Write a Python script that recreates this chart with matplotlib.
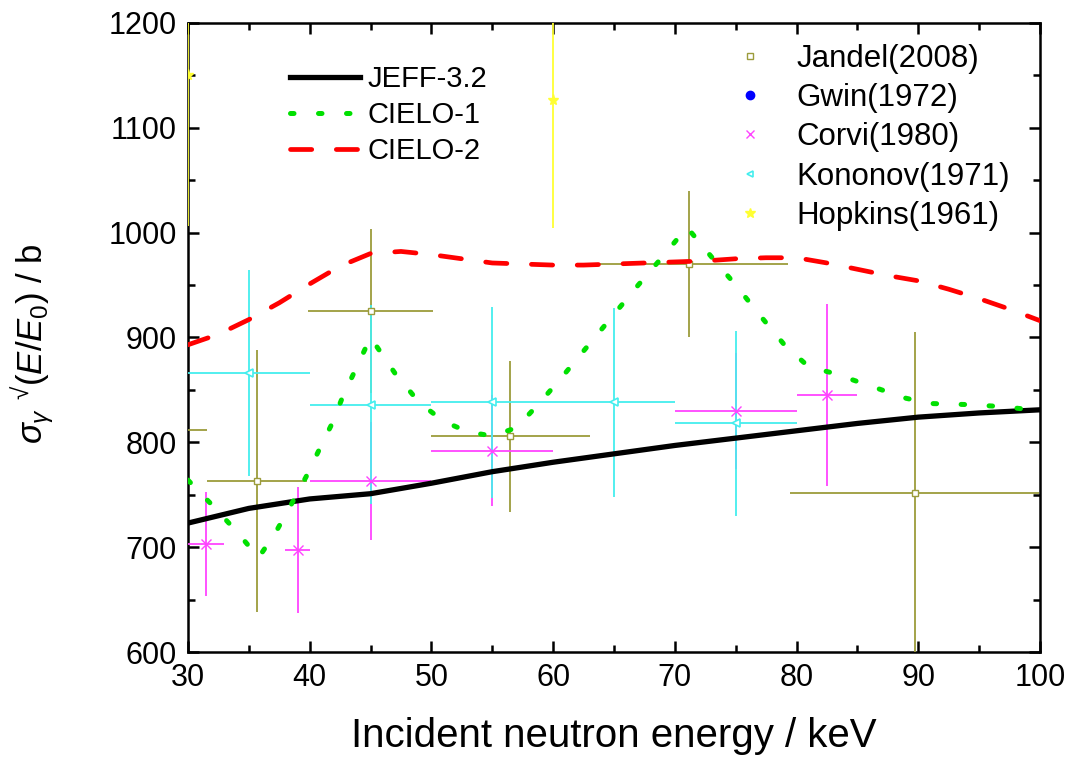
import matplotlib
matplotlib.use('Agg')
import matplotlib.pyplot as plt
from matplotlib.lines import Line2D
from matplotlib.ticker import MultipleLocator

# evaluated curves
jeff_x = [30, 35, 40, 45, 50, 55, 60, 65, 70, 75, 80, 85, 90, 95, 100]
jeff_y = [723, 737, 746, 751, 761, 772, 781, 789, 797, 804, 811, 818, 824, 828, 831]

cielo1_x = [30, 32, 34, 35.8, 37.2, 38.5, 39.7, 40.7, 41.8, 42.7, 45, 47, 49, 51, 53, 55, 57, 59, 61,
            63, 65, 67, 69, 71, 73, 75, 77, 79, 81, 83, 85, 87, 89, 91, 94, 97, 100]
cielo1_y = [764, 740, 715, 690, 714, 741, 767, 791, 817, 843, 900, 866, 838, 820, 810, 806, 814, 839, 866,
            894, 922, 950, 977, 1005, 977, 950, 921, 893, 872, 866, 858, 850, 842, 837, 836, 834, 830]

cielo2_x = [30, 32.5, 35, 37.5, 40, 42.5, 45, 47.5, 50, 52.5, 55, 57.5, 60, 62.5, 65, 67.5, 70,
            72.5, 75, 77.5, 80, 82.5, 85, 87.5, 90, 92.5, 95, 97.5, 100]
cielo2_y = [893, 903, 917, 933, 951, 968, 980, 982, 979, 975, 971, 970, 969, 969, 970, 971, 972,
            973, 975, 976, 976, 971, 965, 959, 954, 946, 937, 927, 916]

# measurements
jandel_x = [28.5, 35.7, 45.0, 56.5, 71.2, 89.7]
jandel_y = [812, 763, 925, 806, 970, 752]
jandel_xerr = [3.1, 4.1, 5.1, 6.5, 8.1, 10.2]
jandel_yerr = [60, 125, 78, 72, 70, 153]

gwin_x = []
gwin_y = []

corvi_x = [31.5, 39.0, 45.0, 55.0, 75.0, 82.5]
corvi_y = [703, 697, 763, 792, 830, 845]
corvi_xerr = [1.5, 1.0, 5.0, 5.0, 5.0, 2.5]
corvi_yerr = [50, 60, 56, 53, 55, 87]

kononov_x = [35, 45, 55, 65, 75]
kononov_y = [866, 836, 838, 838, 818]
kononov_xerr = [5, 5, 5, 5, 5]
kononov_yerr = [98, 95, 91, 90, 88]

hopkins_x = [30, 60]
hopkins_y = [1150, 1126]
hopkins_yerr = [144, 122]

plt.rcParams['font.family'] = ['Liberation Sans', 'DejaVu Sans']
plt.rcParams['mathtext.fontset'] = 'custom'
plt.rcParams['mathtext.rm'] = 'Liberation Sans'
plt.rcParams['mathtext.it'] = 'Liberation Sans:italic'

c_jandel = '#9c9c3c'
c_gwin = '#0000ff'
c_corvi = '#ff44ff'
c_kononov = '#44eeee'
c_hopkins = '#ffff33'

fig = plt.figure(figsize=(10.71, 7.6), dpi=100)
ax = fig.add_axes([0.1755, 0.142, 0.7955, 0.828])

l1, = ax.plot(jeff_x, jeff_y, color='black', lw=3.8, zorder=4)
l2, = ax.plot(cielo1_x, cielo1_y, color='#00e000', lw=3.6, zorder=4,
              dashes=(0.7, 4.9), dash_capstyle='round')
l3, = ax.plot(cielo2_x, cielo2_y, color='#ff0000', lw=3.4, zorder=4,
              dashes=(4.5, 5.2), dash_capstyle='round')

eb = dict(ls='none', elinewidth=1.3, capsize=0, zorder=3)
ax.errorbar(jandel_x, jandel_y, xerr=jandel_xerr, yerr=jandel_yerr, color=c_jandel,
            marker='s', ms=5, mfc='white', mec=c_jandel, mew=1, **eb)
ax.errorbar(corvi_x, corvi_y, xerr=corvi_xerr, yerr=corvi_yerr, color=c_corvi,
            marker='x', ms=7, mew=1, **eb)
ax.errorbar(kononov_x, kononov_y, xerr=kononov_xerr, yerr=kononov_yerr, color=c_kononov,
            marker='<', ms=6, mfc='white', mec=c_kononov, mew=1.2, **eb)
ax.errorbar(hopkins_x, hopkins_y, yerr=hopkins_yerr, color=c_hopkins,
            marker='*', ms=8, **eb)
if gwin_x:
    ax.errorbar(gwin_x, gwin_y, color=c_gwin, marker='o', ms=6, **eb)

ax.set_xlim(30, 100)
ax.set_ylim(600, 1200)
ax.xaxis.set_major_locator(MultipleLocator(10))
ax.xaxis.set_minor_locator(MultipleLocator(5))
ax.yaxis.set_major_locator(MultipleLocator(100))
ax.yaxis.set_minor_locator(MultipleLocator(50))
ax.tick_params(which='both', direction='in', top=True, right=True, width=1.8, labelsize=22)
ax.tick_params(which='major', length=8)
ax.tick_params(which='minor', length=5)
ax.tick_params(axis='x', pad=8)
ax.tick_params(axis='y', pad=8)
for s in ax.spines.values():
    s.set_linewidth(1.8)

ax.set_xlabel('Incident neutron energy / keV', fontsize=29, labelpad=17)
ax.set_ylabel('$\\sigma_{\\gamma}\\ ^{\u221a}(E/E_0)$ / b', fontsize=25)
ax.yaxis.set_label_coords(-0.155, 0.49)

leg1 = ax.legend([l1, l2, l3], ['JEFF-3.2', 'CIELO-1', 'CIELO-2'], loc='upper left',
                 bbox_to_anchor=(0.12, 0.933), frameon=False, fontsize=21,
                 handlelength=2.4, handletextpad=0.25, labelspacing=0.27,
                 borderpad=0, borderaxespad=0)
ax.add_artist(leg1)

h = [Line2D([], [], ls='none', marker='s', ms=5, mfc='white', mec=c_jandel, mew=1),
     Line2D([], [], ls='none', marker='o', ms=6, color=c_gwin),
     Line2D([], [], ls='none', marker='x', ms=6, color=c_corvi, mew=1),
     Line2D([], [], ls='none', marker='<', ms=5, mfc='white', mec=c_kononov, mew=1.2),
     Line2D([], [], ls='none', marker='*', ms=7, color=c_hopkins)]
ax.legend(h, ['Jandel(2008)', 'Gwin(1972)', 'Corvi(1980)', 'Kononov(1971)', 'Hopkins(1961)'],
          loc='upper left', bbox_to_anchor=(0.641, 0.967), frameon=False, fontsize=22.5,
          handlelength=1.0, handletextpad=1.0, labelspacing=0.3, borderpad=0, borderaxespad=0)

fig.savefig('out.png', dpi=100)
